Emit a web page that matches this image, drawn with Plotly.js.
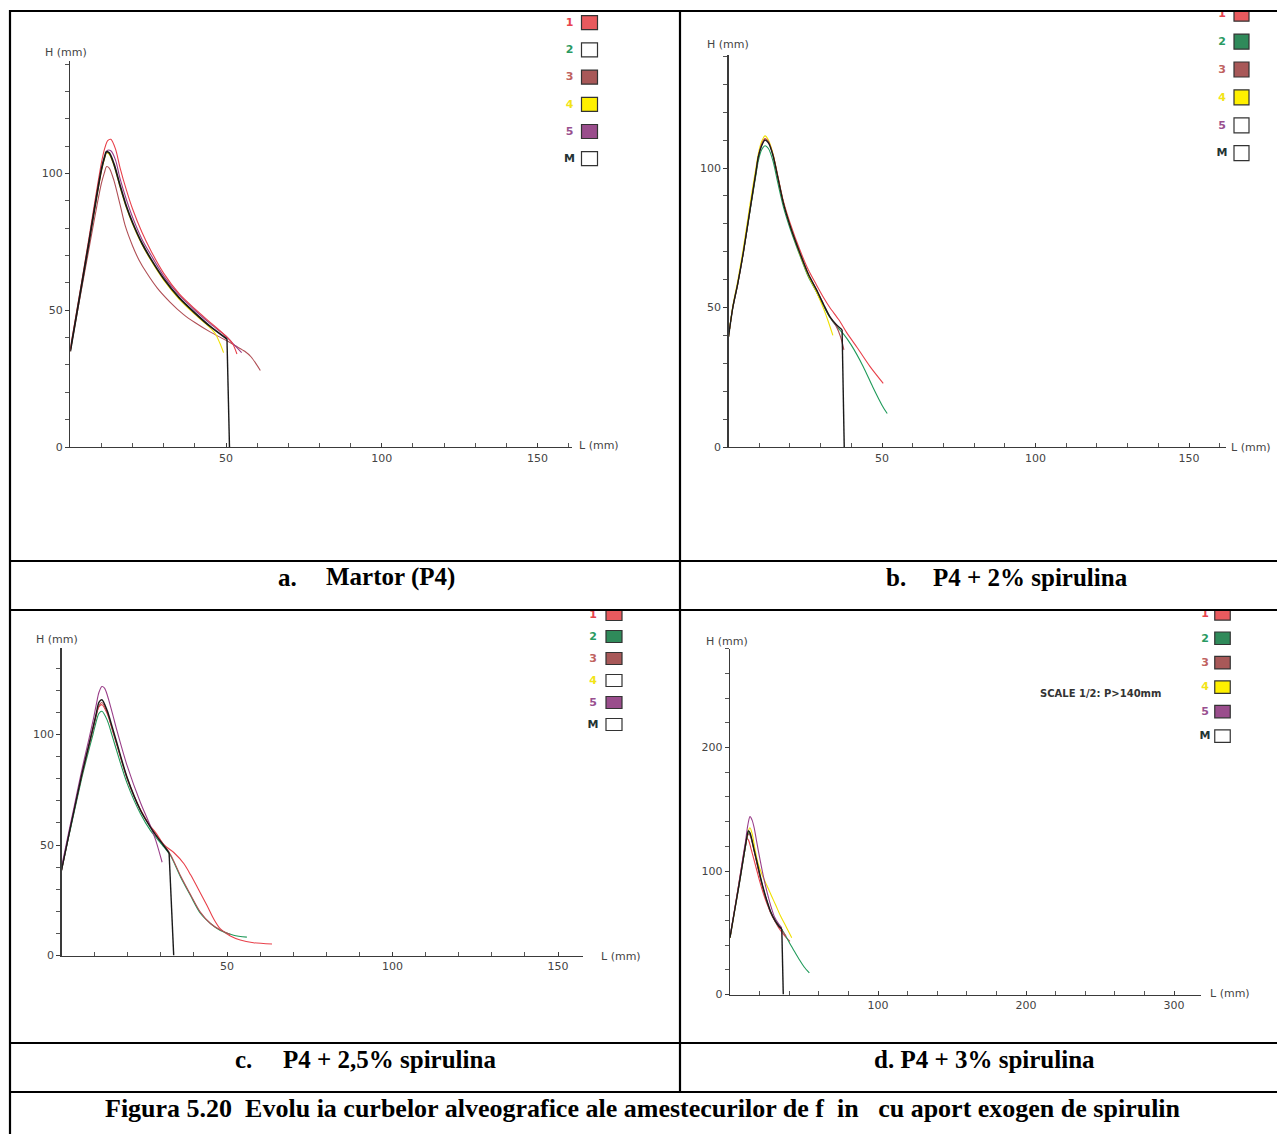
<!DOCTYPE html>
<html>
<head>
<meta charset="utf-8">
<script src="https://cdn.plot.ly/plotly-3.0.1.min.js"></script>
<style>html,body{margin:0;padding:0;background:#fff;}#chart{width:1277px;height:1134px;}</style>
</head>
<body>
<div id="chart"></div>
<script>
// ---------- DATA ----------
// Panel a: Martor (P4)   series 1,3,4,5,M
const a1L = [0, 3, 6, 8.5, 10, 11, 12, 13, 14.5, 16, 18, 20, 23, 26, 30, 35, 40, 45, 50, 52, 53.5];
const a1H = [36, 56, 76.5, 94, 104, 109, 112, 112.5, 109, 102, 94, 87, 78.5, 71.5, 63.5, 56, 50.5, 45.5, 40.5, 38, 34];
const a3L = [0, 3, 6, 8.5, 10, 11, 11.6, 12.5, 14, 16, 17.6, 20, 22, 24.6, 28, 32, 36.3, 40, 45, 50, 53, 56, 58, 61];
const a3H = [35, 54, 72.5, 88, 96.5, 100.5, 102.5, 102, 97.5, 88.5, 81, 73.5, 68.5, 63.5, 58, 53, 48.5, 45.5, 42, 39, 37, 35, 33, 28];
const a4L = [0, 3, 6, 8.5, 10, 11, 11.6, 12.5, 14, 16, 18, 20, 23, 26, 30, 35, 40, 44, 46.5, 48, 49.2];
const a4H = [35, 55, 75, 91.5, 101, 105.5, 107.5, 107, 103, 95, 87.5, 81.5, 74, 68, 61, 54, 48.5, 44.5, 41.5, 38, 34.5];
const a5L = [0, 3, 6, 8.5, 10, 11, 12, 13, 14.5, 16, 18, 20, 23, 26, 30, 35, 40, 45, 50, 52.5, 55];
const a5H = [35, 55, 75, 92, 101.5, 106, 108.5, 108.3, 105, 98, 90.5, 84, 76, 70, 62.5, 55.5, 50, 45, 40.5, 37.5, 34.5];
const aML = [0, 3, 6, 8.5, 10, 11, 11.6, 12.5, 14, 16, 18, 20, 23, 26, 30, 35, 40, 45, 50.3];
const aMH = [35, 55, 75, 92, 101.5, 106, 108, 107.5, 103.5, 95.5, 88, 82, 74.5, 68.5, 61.5, 54.5, 49, 44, 39.5];
const aDropL = [50.3, 51.1];
const aDropH = [39.5, 0];

// Panel b: P4 + 2% spirulina   series 1,2,3,4,M
const b1L = [0, 1.4, 3, 4.8, 7, 9, 9.7, 10.8, 11.9, 13, 14.5, 16, 17.9, 20, 23.3, 26, 28.7, 31, 33, 36, 38.5, 42, 46, 50.4];
const b1H = [39.5, 50, 58.5, 69.5, 85, 99, 104, 108.5, 110.5, 109.5, 105, 97.5, 88, 80.5, 70.5, 63.5, 58, 53.5, 50, 45.5, 41, 35.5, 29, 22.8];
const b2L = [0, 1.4, 3, 4.8, 7, 9, 9.7, 10.8, 11.9, 13, 14.5, 16, 17.9, 20, 23.3, 26, 28.7, 31, 33, 35, 37.3, 40, 43.9, 47, 50, 51.7];
const b2H = [39.5, 50, 58.5, 69.5, 84.5, 98, 102.5, 106.5, 108, 107, 102.5, 95, 86, 78.5, 68.5, 61, 55.5, 50.5, 46.5, 43.5, 40.7, 36.5, 28.8, 21.5, 15, 12];
const b3L = [0, 1.4, 3, 4.8, 7, 9, 9.7, 10.8, 11.9, 13, 14.5, 16, 17.9, 20, 23.3, 26, 28.7, 31, 33, 35, 36.5, 37.6];
const b3H = [39.5, 50, 58.5, 69.5, 85, 99, 104, 108.5, 110.5, 109.5, 104.5, 97, 87.5, 79.5, 69.4, 62, 56.3, 51, 46.7, 43.5, 39.5, 34.8];
const b4L = [0, 1.4, 3, 4.8, 7, 9, 9.7, 10.8, 11.9, 13, 14.5, 16, 17.9, 20, 23.3, 26, 28.7, 31, 32.5, 34];
const b4H = [39.5, 50.5, 59.5, 71, 87, 100.5, 105, 109.5, 111.5, 110, 105, 97, 87.5, 79.5, 69, 61.5, 55.5, 49.5, 45, 40];
const bML = [0, 1.4, 3, 4.8, 7, 9, 9.7, 10.8, 11.9, 13, 14.5, 16, 17.9, 20, 23.3, 26, 28.7, 31, 33, 35, 37];
const bMH = [39.5, 50, 58.5, 69.5, 85, 99, 104, 108, 110, 109, 104.5, 97, 87.3, 79.5, 69.4, 62, 56.3, 51, 46.7, 44, 42];
const bDropL = [37, 37.7];
const bDropH = [42, 0];

// Panel c: P4 + 2,5% spirulina   series 1,2,3,5,M
const c1L = [0, 2, 3.7, 6, 7.75, 9.5, 10.5, 11.3, 12.2, 13.8, 15.3, 16.8, 19.8, 23.9, 26.9, 28.5, 31, 34, 37, 39, 41, 44, 46, 48, 51, 54, 58, 63.6];
const c1H = [38.5, 53, 65, 81, 92, 103, 109, 112.5, 113.5, 109.5, 102.5, 95, 80.5, 66, 58.5, 55.5, 50, 46.5, 41.5, 36.5, 31, 22.5, 16.5, 12, 8.8, 7, 5.8, 5.2];
const c2L = [0, 2, 3.7, 6, 7.75, 9.5, 10.5, 11.3, 12.2, 13.8, 15.3, 16.8, 19.8, 23.9, 26.9, 28.5, 31, 33, 36, 39, 42, 45, 48, 52, 56];
const c2H = [38.5, 52.5, 64, 79.5, 90, 100, 106, 109.5, 110.5, 106.5, 99.5, 92, 78, 64, 56.5, 53.5, 49, 45, 35.4, 27, 19, 14.5, 11.3, 9.2, 8.3];
const c3L = [0, 2, 3.7, 6, 7.75, 9.5, 10.5, 11.3, 12.2, 13.8, 15.3, 16.8, 19.8, 23.9, 26.9, 28.5, 31, 33, 36, 39, 42, 45, 48, 51];
const c3H = [38.5, 53, 65, 80.5, 91.5, 102, 108.5, 113, 114.5, 110, 102.5, 95, 80, 65.5, 58, 54.5, 50, 45.5, 36, 27.5, 19.5, 14.5, 11.5, 9.5];
const c5L = [0, 2, 3.7, 6, 7.75, 9.5, 10.5, 11.3, 12.2, 13, 13.8, 15.3, 16.8, 19.8, 23.9, 26.9, 28.5, 30.4];
const c5H = [40, 54.5, 66.5, 83, 94.5, 106, 113.5, 119, 121.7, 121, 118, 110, 101.5, 86, 69, 58.5, 52, 42.2];
const cML = [0, 2, 3.7, 6, 7.75, 9.5, 10.5, 11.3, 12.2, 13.8, 15.3, 16.8, 19.8, 23.9, 26.9, 28.5, 30.5, 32.5];
const cMH = [38.5, 53, 65, 81, 92, 103, 109.5, 114.5, 115.7, 110.8, 103.5, 95.8, 80.7, 65.6, 58, 54.5, 50.5, 46.5];
const cDropL = [32.5, 33.9];
const cDropH = [46.5, 0];

// Panel d: P4 + 3% spirulina   series 1,2,3,4,5,M
const d1L = [0, 3, 6, 9, 10.5, 11.3, 12.5, 14, 16, 18, 20, 22.5, 25, 28, 31, 34, 37, 40.5];
const d1H = [46, 68, 90, 112, 122, 126.5, 125, 119, 110, 101, 92, 82, 73.5, 65, 58, 52, 47.5, 43];
const d2L = [0, 3, 6, 9, 10.5, 11.5, 12.5, 13.5, 15, 16.5, 18, 20, 22.5, 24.8, 27.5, 30.4, 33, 35, 38, 41, 44, 47, 50, 53.6];
const d2H = [46, 67, 88, 109.5, 120, 127, 131, 130, 124, 116, 108, 97.5, 85.5, 76, 66.5, 59.5, 55, 52.5, 46.5, 40, 34, 28, 22.5, 17.5];
const d3L = [0, 3, 6, 9, 10.5, 11.5, 12.5, 13.5, 15, 16.5, 18, 20, 22.5, 24.8, 27.5, 30.4, 33, 35, 38];
const d3H = [46, 67, 88, 110, 120.5, 127, 130, 129, 123, 115, 107, 96.5, 85, 75.5, 66, 59.5, 55, 52, 47];
const d4L = [0, 3, 6, 9, 10.5, 12, 13.5, 15, 17, 19, 22, 25, 28, 31, 34, 37, 40, 41.7];
const d4H = [46, 67, 89, 111, 122, 131, 135, 130, 117, 106, 96, 88, 80, 72, 64, 57, 50, 46];
const d5L = [0, 3, 6, 9, 10.5, 12, 13.5, 15, 16.5, 18, 20, 22.5, 25, 27.5, 30, 33, 35];
const d5H = [47, 68, 90, 113, 124, 137, 144, 141, 134, 124, 111, 96, 83, 72, 63, 57, 54];
const dML = [0, 3, 6, 9, 10.5, 11.5, 12.4, 13.5, 15, 16.5, 18, 20, 22.5, 24.8, 27.5, 30.4, 33, 35];
const dMH = [46, 67, 88, 110, 121, 128, 132.5, 131, 124, 116, 108.5, 98, 86, 76.5, 67, 60, 55.5, 53];
const dDropL = [35, 36];
const dDropH = [53, 0];

// Tick labels
const abcXTicks = [50, 100, 150];
const abcYTicks = [0, 50, 100];
const dXTicks = [100, 200, 300];
const dYTicks = [0, 100, 200];

// Legend labels and which series are present in each panel
const legendLabels = ['1', '2', '3', '4', '5', 'M'];
const aShown = [1, 0, 1, 1, 1, 0];
const bShown = [1, 1, 1, 1, 0, 0];
const cShown = [1, 1, 1, 0, 1, 0];
const dShown = [1, 1, 1, 1, 1, 0];

// Captions
const capA = ['a.', 'Martor (P4)'];
const capB = ['b.', 'P4 + 2% spirulina'];
const capC = ['c.', 'P4 + 2,5% spirulina'];
const capD = 'd. P4 + 3% spirulina';
const figCaption = 'Figura 5.20\u00a0 Evolu ia curbelor alveografice ale amestecurilor de f\u00a0 in\u00a0\u00a0 cu aport exogen de spirulin';
const scaleNote = 'SCALE 1/2: P>140mm';

// ---------- STYLE ----------
const W = 1277, H = 1134;
const C = {red:'#e8404a', green:'#1f9a5a', brown:'#b04f55', yellow:'#f0e000', purple:'#9a3f8a', black:'#1a1a1a'};
const legText = ['#e8444e', '#2a9a62', '#c0625f', '#f2e417', '#99508f', '#233333'];
const legFill = ['#e85a5e', '#2f8a5a', '#a85858', '#fff000', '#9a4d8c', '#ffffff'];
const tickFont = {family:'DejaVu Sans', size:11, color:'#444'};
const axCol = '#3a3a3a';

function xAx(orig, ppu, max, tv, md, anchor) {
  return {domain:[orig/W, (orig + ppu*max)/W], range:[0, max], anchor:anchor,
    showline:true, linecolor:axCol, linewidth:1.3, showgrid:false, zeroline:false,
    tickmode:'array', tickvals:tv, ticktext:tv.map(String), ticks:'inside', ticklen:4,
    tickcolor:axCol, tickfont:tickFont,
    minor:{tickmode:'linear', tick0:0, dtick:md, ticks:'inside', ticklen:4, tickcolor:'#555', showgrid:false},
    fixedrange:true};
}
function yAx(orig, ppu, max, tv, md, anchor) {
  return {domain:[1 - orig/H, 1 - (orig - ppu*max)/H], range:[0, max], anchor:anchor,
    showline:true, linecolor:axCol, linewidth:1.3, showgrid:false, zeroline:false,
    tickmode:'array', tickvals:tv, ticktext:tv.map(String), ticks:'outside', ticklen:4,
    tickcolor:axCol, tickfont:tickFont,
    minor:{tickmode:'linear', tick0:0, dtick:md, ticks:'outside', ticklen:4, tickcolor:'#555', showgrid:false},
    fixedrange:true};
}
function ovX(x0, x1) { return {domain:[x0/W, x1/W], range:[x0, x1], visible:false, fixedrange:true}; }
function ovY(y0, y1) { return {domain:[1 - y1/H, 1 - y0/H], range:[y1, y0], visible:false, fixedrange:true}; }

const traces = [];
function curve(L, Hh, color, ax, w) {
  traces.push({type:'scatter', mode:'lines', x:L, y:Hh, xaxis:'x'+ax, yaxis:'y'+ax,
    line:{color:color, width:w || 1.1, shape:'spline', smoothing:0.8}, hoverinfo:'skip'});
}
function drop(L, Hh, ax) {
  traces.push({type:'scatter', mode:'lines', x:L, y:Hh, xaxis:'x'+ax, yaxis:'y'+ax,
    line:{color:C.black, width:1.4}, hoverinfo:'skip'});
}
// panel a
curve(a3L, a3H, C.brown, ''); curve(a4L, a4H, C.yellow, ''); curve(a5L, a5H, C.purple, '');
curve(a1L, a1H, C.red, ''); curve(aML, aMH, C.black, '', 1.8); drop(aDropL, aDropH, '');
// panel b
curve(b1L, b1H, C.red, '2'); curve(b2L, b2H, C.green, '2'); curve(b4L, b4H, C.yellow, '2');
curve(b3L, b3H, C.brown, '2'); curve(bML, bMH, C.black, '2', 1.4); drop(bDropL, bDropH, '2');
// panel c
curve(c1L, c1H, C.red, '3'); curve(c2L, c2H, C.green, '3'); curve(c3L, c3H, C.brown, '3');
curve(c5L, c5H, C.purple, '3'); curve(cML, cMH, C.black, '3', 1.4); drop(cDropL, cDropH, '3');
// panel d
curve(d1L, d1H, C.red, '4'); curve(d2L, d2H, C.green, '4'); curve(d3L, d3H, C.brown, '4');
curve(d4L, d4H, C.yellow, '4'); curve(d5L, d5H, C.purple, '4'); curve(dML, dMH, C.black, '4', 1.4);
drop(dDropL, dDropH, '4');

const shapes = [];
// legends: overlay subplot per panel so the top row is clipped by the table line
const legSpecs = [
  {ax:'5', shown:aShown, lx:569.5, bx:589.5, r0:22.7, dr:27.2, bw:16, bh:14, box:[540, 640, 11, 175]},
  {ax:'6', shown:bShown, lx:1222, bx:1241.5, r0:13.7, dr:27.9, bw:15, bh:15, box:[1195, 1277, 11, 170]},
  {ax:'7', shown:cShown, lx:593, bx:614, r0:614.5, dr:22, bw:16, bh:12, box:[570, 679, 611, 740]},
  {ax:'8', shown:dShown, lx:1205, bx:1222.5, r0:613.8, dr:24.45, bw:15.5, bh:12.5, box:[1185, 1277, 611, 750]}
];
const overlayAxes = {};
legSpecs.forEach(s => {
  overlayAxes['xaxis' + s.ax] = Object.assign(ovX(s.box[0], s.box[1]), {anchor:'y' + s.ax});
  overlayAxes['yaxis' + s.ax] = Object.assign(ovY(s.box[2], s.box[3]), {anchor:'x' + s.ax});
  const ys = legendLabels.map((_, i) => s.r0 + i*s.dr);
  traces.push({type:'scatter', mode:'text', x:legendLabels.map(() => s.lx), y:ys.map(v => v + 0.5),
    text:legendLabels.map(t => '<b>' + t + '</b>'), textposition:'middle center', cliponaxis:true,
    textfont:{family:'DejaVu Sans', size:11, color:legText}, xaxis:'x' + s.ax, yaxis:'y' + s.ax, hoverinfo:'skip'});
  legendLabels.forEach((t, i) => {
    shapes.push({type:'rect', xref:'x' + s.ax, yref:'y' + s.ax, layer:'above',
      x0:s.bx - s.bw/2, x1:s.bx + s.bw/2, y0:ys[i] - s.bh/2, y1:ys[i] + s.bh/2,
      fillcolor: s.shown[i] ? legFill[i] : '#ffffff', line:{color:'#333', width:1.2}});
  });
});

// table lines
function hl(y, x0, x1) { shapes.push({type:'line', xref:'paper', yref:'paper', x0:x0/W, x1:x1/W, y0:1-y/H, y1:1-y/H, line:{color:'#000', width:2.2}, layer:'above'}); }
function vl(x, y0, y1) { shapes.push({type:'line', xref:'paper', yref:'paper', x0:x/W, x1:x/W, y0:1-y0/H, y1:1-y1/H, line:{color:'#000', width:2.2}, layer:'above'}); }
hl(11, 9, 1277); hl(561, 9, 1277); hl(610, 9, 1277); hl(1043, 9, 1277); hl(1092, 9, 1277);
vl(10, 10, 1134); vl(680, 10, 1092);

const ann = [];
function txt(t, x, y, opt) {
  ann.push(Object.assign({text:t, x:x/W, y:1-y/H, xref:'paper', yref:'paper', showarrow:false,
    xanchor:'center', yanchor:'middle', font:tickFont}, opt || {}));
}
// axis titles
txt('H (mm)', 65.5, 53); txt('L (mm)', 577, 445, {xanchor:'left'});
txt('H (mm)', 727.5, 45); txt('L (mm)', 1229, 447, {xanchor:'left'});
txt('H (mm)', 57, 639); txt('L (mm)', 599, 956, {xanchor:'left'});
txt('H (mm)', 727, 641); txt('L (mm)', 1208, 993, {xanchor:'left'});
txt('<b>' + scaleNote + '</b>', 1100, 693, {font:{family:'DejaVu Sans', size:10, color:'#333'}});
// captions
const capFont = {family:'Liberation Serif', size:25, color:'#000'};
txt('<b>' + capA[0] + '</b>', 276, 577, {xanchor:'left', font:capFont});
txt('<b>' + capA[1] + '</b>', 324, 577, {xanchor:'left', font:capFont});
txt('<b>' + capB[0] + '</b>', 884, 577, {xanchor:'left', font:capFont});
txt('<b>' + capB[1] + '</b>', 931, 577, {xanchor:'left', font:capFont});
txt('<b>' + capC[0] + '</b>', 233, 1059, {xanchor:'left', font:capFont});
txt('<b>' + capC[1] + '</b>', 281, 1059, {xanchor:'left', font:capFont});
txt('<b>' + capD + '</b>', 984, 1059, {font:capFont});
txt('<b>' + figCaption + '</b>', 643, 1108, {font:{family:'Liberation Serif', size:26, color:'#000'}});

const layout = Object.assign({
  width:W, height:H, margin:{l:0, r:0, t:0, b:0}, showlegend:false,
  paper_bgcolor:'#ffffff', plot_bgcolor:'rgba(0,0,0,0)',
  xaxis: xAx(70.3, 3.115, 161, abcXTicks, 10, 'y'),
  yaxis: yAx(447, 2.735, 141, abcYTicks, 10, 'x'),
  xaxis2: xAx(728.5, 3.07, 162, abcXTicks, 10, 'y2'),
  yaxis2: yAx(447, 2.79, 140.5, abcYTicks, 10, 'x2'),
  xaxis3: xAx(61.5, 3.31, 157.5, abcXTicks, 10, 'y3'),
  yaxis3: yAx(955.5, 2.21, 139, abcYTicks, 10, 'x3'),
  xaxis4: xAx(730, 1.48, 318, dXTicks, 20, 'y4'),
  yaxis4: yAx(994.5, 1.235, 280, dYTicks, 20, 'x4'),
  shapes: shapes, annotations: ann
}, overlayAxes);

Plotly.newPlot('chart', traces, layout, {staticPlot:true, displayModeBar:false});
</script>
</body>
</html>
